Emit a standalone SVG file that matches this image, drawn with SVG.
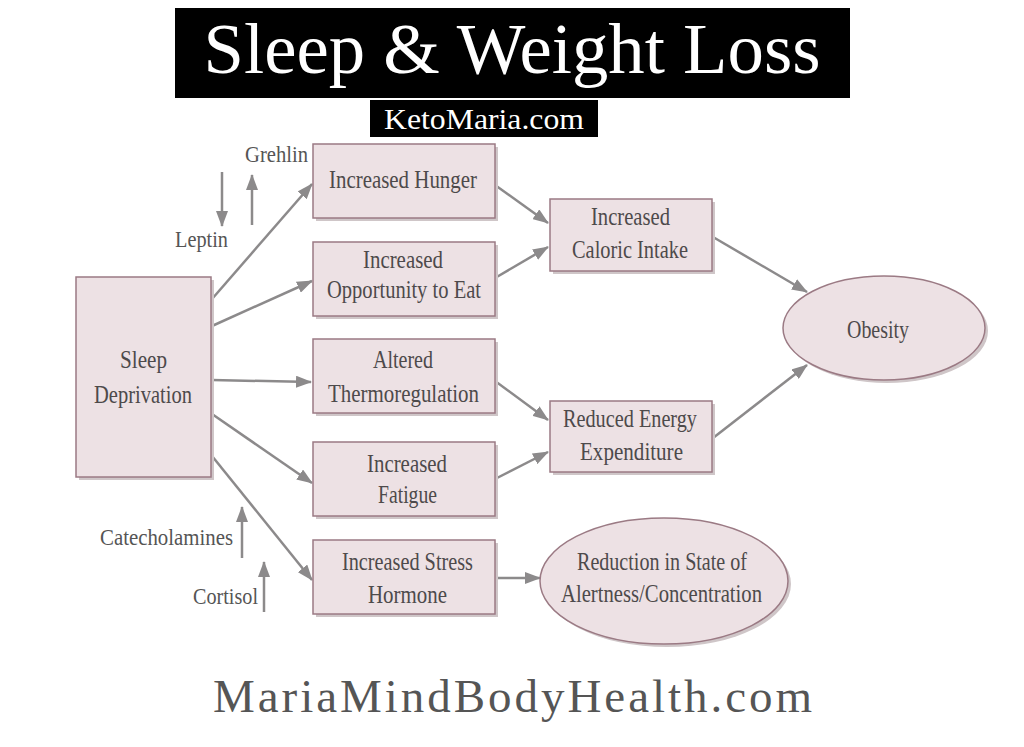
<svg xmlns="http://www.w3.org/2000/svg" width="1024" height="747" viewBox="0 0 1024 747">
<style>
.box{fill:#ede1e4;stroke:#9b7a84;stroke-width:1.5}
.sh{fill:#cfc6c8}
.t{font-family:"Liberation Serif","Times New Roman",serif;font-size:25px;fill:#4d4a4b;text-anchor:middle}
.lb{font-family:"Liberation Serif","Times New Roman",serif;font-size:24px;fill:#555;}
.c{stroke:#8c8a8b;stroke-width:2.5;fill:none;marker-end:url(#ah)}
</style>
<defs>
<marker id="ah" markerUnits="userSpaceOnUse" markerWidth="16" markerHeight="12" refX="15" refY="6" orient="auto">
<path d="M0,0 L16,6 L0,12 z" fill="#8c8a8b"/>
</marker>
</defs>
<rect width="1024" height="747" fill="#fff"/>
<g id="title">
<rect x="175" y="8" width="675" height="90" fill="#000"/>
<text x="512" y="73" font-family="Liberation Serif, Times New Roman, serif" font-size="72" fill="#fff" text-anchor="middle" textLength="617" lengthAdjust="spacingAndGlyphs">Sleep &amp; Weight Loss</text>
<rect x="370" y="100" width="228" height="37" fill="#000"/>
<text x="484" y="129" font-family="Liberation Serif, Times New Roman, serif" font-size="30" fill="#fff" text-anchor="middle" textLength="200" lengthAdjust="spacingAndGlyphs">KetoMaria.com</text>
</g>
<g id="connectors">
<line class="c" x1="212" y1="299" x2="312" y2="184"/>
<line class="c" x1="212" y1="326" x2="312" y2="281"/>
<line class="c" x1="212" y1="380" x2="311" y2="382"/>
<line class="c" x1="212" y1="414" x2="312" y2="483"/>
<line class="c" x1="212" y1="456" x2="312" y2="580"/>
<line class="c" x1="495" y1="185" x2="548" y2="223"/>
<line class="c" x1="495" y1="278" x2="548" y2="247"/>
<line class="c" x1="495" y1="381" x2="548" y2="420"/>
<line class="c" x1="495" y1="479" x2="548" y2="452"/>
<line class="c" x1="713" y1="237" x2="807" y2="292"/>
<line class="c" x1="713" y1="438" x2="807" y2="365"/>
<line class="c" x1="495" y1="578" x2="540" y2="578"/>
<line class="c" x1="222" y1="172" x2="222" y2="226"/>
<line class="c" x1="252" y1="225" x2="252" y2="175"/>
<line class="c" x1="242" y1="558" x2="242" y2="507"/>
<line class="c" x1="264" y1="612" x2="264" y2="562"/>
</g>
<g id="labels">
<text class="lb" x="245" y="162" textLength="63" lengthAdjust="spacingAndGlyphs">Grehlin</text>
<text class="lb" x="175" y="247" textLength="53" lengthAdjust="spacingAndGlyphs">Leptin</text>
<text class="lb" x="100" y="545" textLength="133" lengthAdjust="spacingAndGlyphs">Catecholamines</text>
<text class="lb" x="193" y="604" textLength="65" lengthAdjust="spacingAndGlyphs">Cortisol</text>
</g>
<g id="sleep">
<rect class="sh" x="79" y="280" width="135" height="200"/>
<rect class="box" x="76" y="277" width="135" height="200"/>
<text class="t" x="143.5" y="368" textLength="47" lengthAdjust="spacingAndGlyphs">Sleep</text>
<text class="t" x="143" y="403" textLength="98" lengthAdjust="spacingAndGlyphs">Deprivation</text>
</g>
<g id="hunger">
<rect class="sh" x="316" y="147" width="182" height="74"/>
<rect class="box" x="313" y="144" width="182" height="74"/>
<text class="t" x="403" y="188" textLength="148" lengthAdjust="spacingAndGlyphs">Increased Hunger</text>
</g>
<g id="opportunity">
<rect class="sh" x="316" y="245" width="182" height="74"/>
<rect class="box" x="313" y="242" width="182" height="74"/>
<text class="t" x="403" y="268" textLength="80" lengthAdjust="spacingAndGlyphs">Increased</text>
<text class="t" x="404" y="298" textLength="154" lengthAdjust="spacingAndGlyphs">Opportunity to Eat</text>
</g>
<g id="thermo">
<rect class="sh" x="316" y="342" width="182" height="74"/>
<rect class="box" x="313" y="339" width="182" height="74"/>
<text class="t" x="403" y="368" textLength="60" lengthAdjust="spacingAndGlyphs">Altered</text>
<text class="t" x="403.5" y="402" textLength="151" lengthAdjust="spacingAndGlyphs">Thermoregulation</text>
</g>
<g id="fatigue">
<rect class="sh" x="316" y="445" width="182" height="74"/>
<rect class="box" x="313" y="442" width="182" height="74"/>
<text class="t" x="407" y="472" textLength="80" lengthAdjust="spacingAndGlyphs">Increased</text>
<text class="t" x="407.5" y="503" textLength="59" lengthAdjust="spacingAndGlyphs">Fatigue</text>
</g>
<g id="stress">
<rect class="sh" x="316" y="543" width="182" height="74"/>
<rect class="box" x="313" y="540" width="182" height="74"/>
<text class="t" x="407.5" y="570" textLength="131" lengthAdjust="spacingAndGlyphs">Increased Stress</text>
<text class="t" x="407.5" y="603" textLength="79" lengthAdjust="spacingAndGlyphs">Hormone</text>
</g>
<g id="caloric">
<rect class="sh" x="553" y="202" width="162" height="72"/>
<rect class="box" x="550" y="199" width="162" height="72"/>
<text class="t" x="630.5" y="225" textLength="79" lengthAdjust="spacingAndGlyphs">Increased</text>
<text class="t" x="630" y="258" textLength="116" lengthAdjust="spacingAndGlyphs">Caloric Intake</text>
</g>
<g id="energy">
<rect class="sh" x="553" y="404" width="162" height="71"/>
<rect class="box" x="550" y="401" width="162" height="71"/>
<text class="t" x="630" y="427" textLength="134" lengthAdjust="spacingAndGlyphs">Reduced Energy</text>
<text class="t" x="631.5" y="460" textLength="103" lengthAdjust="spacingAndGlyphs">Expenditure</text>
</g>
<g id="obesity">
<ellipse class="sh" cx="887" cy="331" rx="101" ry="52"/>
<ellipse class="box" cx="884" cy="328" rx="101" ry="52"/>
<text class="t" x="878" y="338" textLength="62" lengthAdjust="spacingAndGlyphs">Obesity</text>
</g>
<g id="alertness">
<ellipse class="sh" cx="667" cy="584" rx="124" ry="63"/>
<ellipse class="box" cx="664" cy="581" rx="124" ry="63"/>
<text class="t" x="662" y="570" textLength="170" lengthAdjust="spacingAndGlyphs">Reduction in State of</text>
<text class="t" x="661.5" y="602" textLength="201" lengthAdjust="spacingAndGlyphs">Alertness/Concentration</text>
</g>
<g id="footer">
<text x="512.5" y="712" font-family="Liberation Serif, Times New Roman, serif" font-size="47" fill="#555" text-anchor="middle" textLength="599" lengthAdjust="spacing">MariaMindBodyHealth.com</text>
</g>
</svg>
